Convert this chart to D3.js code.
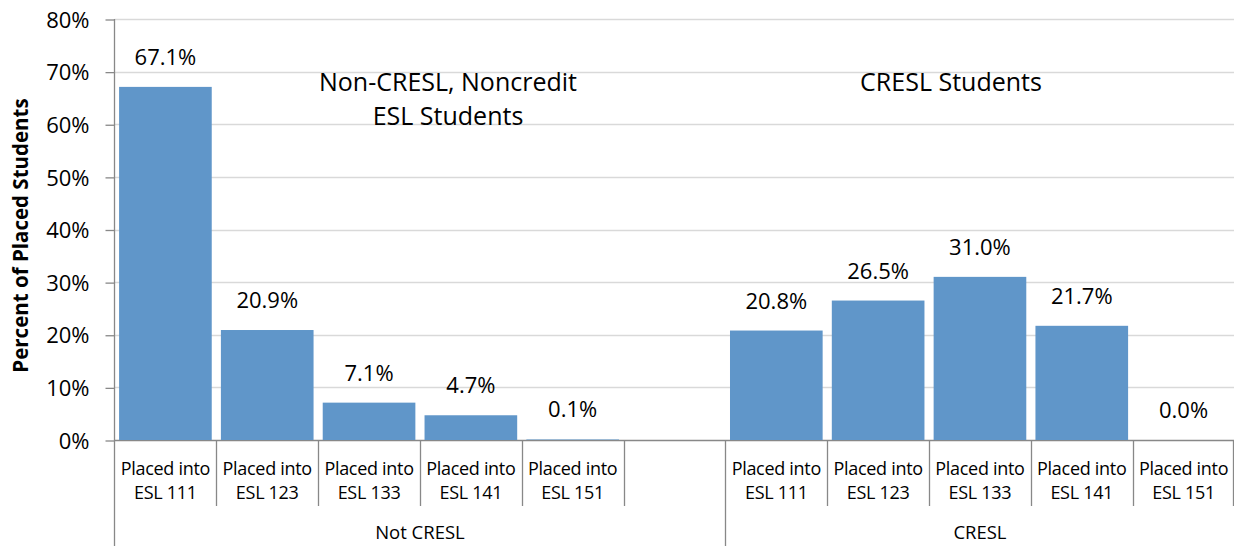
<!DOCTYPE html>
<html>
<head>
<meta charset="utf-8">
<script src="https://cdn.jsdelivr.net/npm/d3@7"></script>
<style>
body { margin: 0; background: #fff; }
text { font-family: "Open Sans", Lato, sans-serif; fill: #000; }
</style>
</head>
<body>
<div id="chart"></div>
<script>
// data
var groups = ["Not CRESL", "CRESL"];
var categories = ["Placed into ESL 111", "Placed into ESL 123", "Placed into ESL 133", "Placed into ESL 141", "Placed into ESL 151"];
var notCresl = [67.1, 20.9, 7.1, 4.7, 0.1];
var cresl = [20.8, 26.5, 31.0, 21.7, 0.0];
var yTicks = [0, 10, 20, 30, 40, 50, 60, 70, 80];
var notes = [["Non-CRESL, Noncredit", "ESL Students"], ["CRESL Students"]];

var W = 1234, H = 546;
var pLeft = 114.5, pRight = 1234.5, pTop = 19, pBottom = 440;

// one slot per bar, plus an empty slot closing the first group
var slots = [];
categories.forEach(function(c, i) { slots.push({group: 0, cat: c, value: notCresl[i], key: "a" + i}); });
slots.push({group: 0, cat: "", value: null, key: "a5"});
categories.forEach(function(c, i) { slots.push({group: 1, cat: c, value: cresl[i], key: "b" + i}); });

var svg = d3.select("#chart").append("svg").attr("width", W).attr("height", H);

var x = d3.scaleBand().domain(slots.map(d => d.key)).range([pLeft, pRight]).paddingInner(0.09).paddingOuter(0.045);
var y = d3.scaleLinear().domain([0, 80]).range([pBottom, pTop]);
var step = (pRight - pLeft) / slots.length;
var slotLeft = function(i) { return pLeft + i * step; };

// grid
svg.append("g").selectAll("line").data(yTicks.slice(1)).enter().append("line")
  .attr("x1", pLeft).attr("x2", pRight)
  .attr("y1", d => Math.round(y(d)) + 0.5).attr("y2", d => Math.round(y(d)) + 0.5)
  .attr("stroke", "#d9d9d9").attr("stroke-width", 1.3);

// y axis
var yAxis = svg.append("g").attr("transform", "translate(" + pLeft + ",0.5)")
  .call(d3.axisLeft(y).tickValues(yTicks).tickSize(9).tickPadding(16).tickFormat(d => d + "%"));
yAxis.select(".domain").remove();
yAxis.selectAll("line").attr("stroke", "#888").attr("stroke-width", 1.3);
yAxis.selectAll("text").style("font-size", "22px").style("font-family", "'Open Sans', sans-serif")
  .attr("fill", "#000").attr("dy", "0.35em");

svg.append("line").attr("x1", pLeft).attr("x2", pLeft).attr("y1", pTop).attr("y2", H)
  .attr("stroke", "#888").attr("stroke-width", 1.3);
svg.append("line").attr("x1", pLeft).attr("x2", pRight).attr("y1", pBottom + 0.5).attr("y2", pBottom + 0.5)
  .attr("stroke", "#888").attr("stroke-width", 1.3);

svg.append("text").attr("transform", "translate(21," + ((pTop + pBottom) / 2 + 6) + ") rotate(-90)")
  .attr("text-anchor", "middle").attr("dy", "0.35em")
  .style("font-size", "20.5px").style("font-weight", "bold").text("Percent of Placed Students");

// bars
var bars = slots.filter(d => d.value !== null);
svg.append("g").selectAll("rect").data(bars).enter().append("rect")
  .attr("x", d => x(d.key)).attr("width", x.bandwidth())
  .attr("y", d => y(d.value)).attr("height", d => pBottom - y(d.value))
  .attr("fill", "#6096c9");

svg.append("g").selectAll("text").data(bars).enter().append("text")
  .attr("x", d => x(d.key) + x.bandwidth() / 2)
  .attr("y", d => y(d.value) - 22)
  .attr("text-anchor", "middle").style("font-size", "22px")
  .text(d => d.value.toFixed(1) + "%");

// category separators and labels
var sep = svg.append("g");
for (var i = 1; i < slots.length; i++) {
  var gx = Math.round(slotLeft(i)) + 0.5;
  var groupEdge = slots[i].group !== slots[i - 1].group;
  sep.append("line").attr("x1", gx).attr("x2", gx).attr("y1", pBottom)
    .attr("y2", groupEdge ? H : 506).attr("stroke", "#888").attr("stroke-width", 1.3);
}
sep.append("line").attr("x1", pRight - 1).attr("x2", pRight - 1).attr("y1", pBottom).attr("y2", 506)
  .attr("stroke", "#888").attr("stroke-width", 1.3);

slots.forEach(function(d, i) {
  if (!d.cat) return;
  var cx = slotLeft(i) + step / 2;
  var words = d.cat.split(" ");
  var t = svg.append("text").attr("text-anchor", "middle").style("font-size", "18px").style("letter-spacing", "-0.3px");
  t.append("tspan").attr("x", cx).attr("y", 475).text(words.slice(0, 2).join(" "));
  t.append("tspan").attr("x", cx).attr("y", 499).text(words.slice(2).join(" "));
});

groups.forEach(function(g, gi) {
  var idx = slots.map((d, i) => d.group === gi ? i : -1).filter(i => i >= 0);
  var a = slotLeft(idx[0]), b = slotLeft(idx[idx.length - 1] + 1);
  svg.append("text").attr("x", (a + b) / 2).attr("y", 539).attr("text-anchor", "middle")
    .style("font-size", "18.5px").text(g);
});

// group notes inside the plot
var noteX = [448, 951];
notes.forEach(function(lines, gi) {
  lines.forEach(function(s, li) {
    svg.append("text").attr("x", noteX[gi]).attr("y", 91 + li * 34).attr("text-anchor", "middle")
      .style("font-size", "25px").text(s);
  });
});
</script>
</body>
</html>
